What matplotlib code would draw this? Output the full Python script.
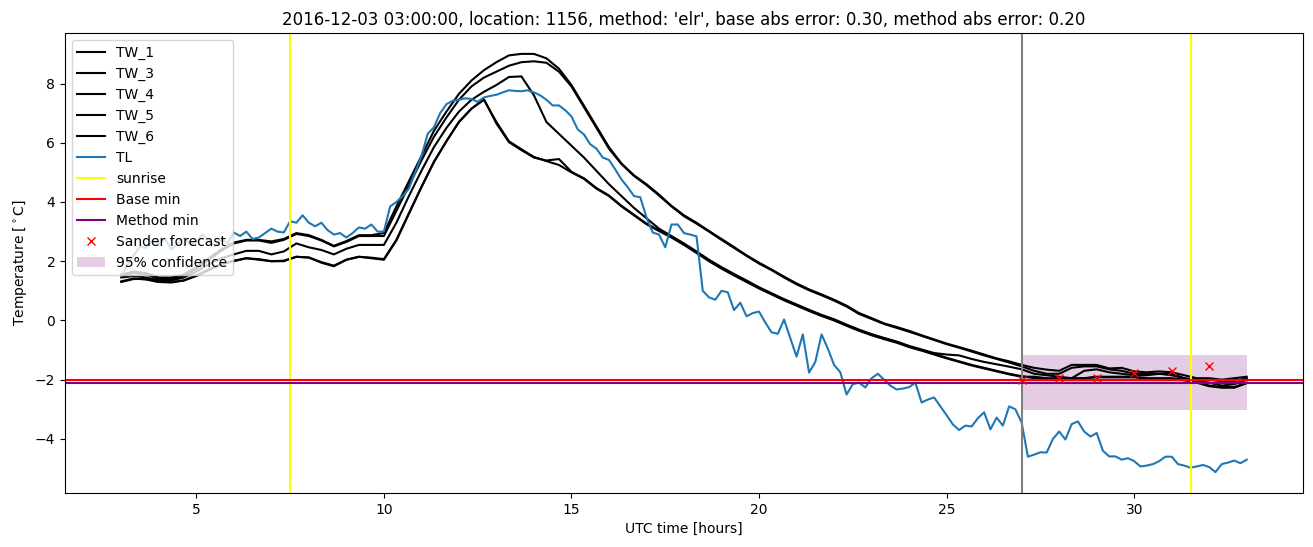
"""Road temperature forecast plot for one location (TW sensors vs TL, forecast band)."""
import numpy as np
import matplotlib
matplotlib.use("Agg")
import matplotlib.pyplot as plt

# TW sensors on a 20-minute grid, hours since 2016-12-03 00:00 UTC
hours = np.arange(91) / 3 + 3
# TL on a 10-minute grid
tl_hours = np.arange(181) / 6 + 3

tw_1 = [1.55, 1.65, 1.6, 1.45, 1.45, 1.55, 1.8, 2.1, 2.4, 2.63,
        2.72, 2.72, 2.67, 2.75, 2.95, 2.88, 2.72, 2.52, 2.68, 2.88,
        2.88, 2.95, 3.85, 4.7, 5.55, 6.4, 7.05, 7.65, 8.1, 8.45,
        8.72, 8.95, 9.0, 9.0, 8.85, 8.5, 7.95, 7.25, 6.55, 5.85,
        5.3, 4.9, 4.6, 4.25, 3.87, 3.55, 3.3, 3.02, 2.75, 2.48,
        2.2, 1.95, 1.72, 1.48, 1.25, 1.05, 0.88, 0.7, 0.5, 0.25,
        0.08, -0.1, -0.22, -0.35, -0.5, -0.64, -0.78, -0.9, -1.02, -1.15,
        -1.28, -1.38, -1.5, -1.6, -1.66, -1.7, -1.5, -1.5, -1.5, -1.62,
        -1.6, -1.72, -1.75, -1.72, -1.75, -1.85, -1.95, -1.95, -2.0, -1.95,
        -1.9]
tw_3 = [1.5, 1.6, 1.55, 1.4, 1.4, 1.5, 1.75, 2.05, 2.35, 2.6,
        2.7, 2.7, 2.62, 2.72, 2.92, 2.85, 2.7, 2.5, 2.65, 2.85,
        2.85, 2.85, 3.7, 4.55, 5.4, 6.2, 6.85, 7.45, 7.9, 8.2,
        8.4, 8.6, 8.72, 8.75, 8.7, 8.4, 7.9, 7.2, 6.5, 5.8,
        5.28, 4.88, 4.57, 4.22, 3.85, 3.52, 3.27, 3.0, 2.72, 2.45,
        2.18, 1.92, 1.7, 1.45, 1.22, 1.02, 0.85, 0.67, 0.47, 0.22,
        0.05, -0.12, -0.25, -0.38, -0.52, -0.66, -0.8, -0.92, -1.05, -1.18,
        -1.3, -1.42, -1.55, -1.7, -1.8, -1.8, -1.6, -1.55, -1.55, -1.65,
        -1.7, -1.8, -1.8, -1.8, -1.8, -1.95, -2.0, -2.0, -2.05, -2.05,
        -1.95]
tw_4 = [1.45, 1.5, 1.45, 1.35, 1.35, 1.45, 1.65, 1.9, 2.1, 2.23,
        2.35, 2.35, 2.23, 2.33, 2.6, 2.47, 2.38, 2.23, 2.42, 2.55,
        2.55, 2.55, 3.3, 4.2, 5.05, 5.85, 6.5, 7.05, 7.45, 7.72,
        7.95, 8.22, 8.24, 7.6, 6.7, 6.3, 5.9, 5.5, 5.05, 4.6,
        4.2, 3.8, 3.45, 3.1, 2.85, 2.6, 2.33, 2.05, 1.8, 1.57,
        1.35, 1.12, 0.92, 0.72, 0.54, 0.36, 0.19, 0.04, -0.14, -0.31,
        -0.46, -0.59, -0.71, -0.86, -0.98, -1.1, -1.15, -1.18, -1.3, -1.4,
        -1.48, -1.56, -1.65, -1.8, -1.85, -1.9, -1.95, -1.7, -1.65, -1.75,
        -1.8, -1.85, -1.85, -1.8, -1.85, -1.95, -2.05, -2.1, -2.2, -2.15,
        -2.0]
tw_5 = [1.3, 1.4, 1.4, 1.3, 1.3, 1.35, 1.5, 1.7, 1.9, 2.0,
        2.1, 2.05, 2.0, 2.0, 2.15, 2.13, 1.95, 1.83, 2.05, 2.15,
        2.1, 2.05, 2.7, 3.6, 4.5, 5.35, 6.05, 6.7, 7.15, 7.45,
        6.7, 6.05, 5.78, 5.52, 5.38, 5.25, 5.0, 4.78, 4.45, 4.2,
        3.85, 3.55, 3.25, 3.02, 2.8, 2.55, 2.28, 2.0, 1.75, 1.52,
        1.3, 1.08, 0.88, 0.68, 0.5, 0.32, 0.15, 0.0, -0.18, -0.35,
        -0.5, -0.63, -0.75, -0.9, -1.02, -1.15, -1.28, -1.4, -1.52, -1.62,
        -1.72, -1.82, -1.9, -1.9, -1.95, -1.95, -1.95, -1.95, -1.9, -1.9,
        -1.9, -1.9, -1.95, -1.95, -1.95, -2.0, -2.05, -2.2, -2.25, -2.25,
        -2.1]
tw_6 = [1.32, 1.42, 1.38, 1.3, 1.28, 1.35, 1.52, 1.72, 1.9, 2.02,
        2.1, 2.07, 2.0, 2.02, 2.15, 2.12, 1.97, 1.85, 2.05, 2.15,
        2.12, 2.07, 2.72, 3.62, 4.5, 5.35, 6.05, 6.7, 7.15, 7.47,
        6.65, 6.02, 5.75, 5.5, 5.4, 5.45, 5.02, 4.8, 4.47, 4.22,
        3.87, 3.57, 3.27, 3.04, 2.82, 2.57, 2.3, 2.02, 1.77, 1.54,
        1.32, 1.1, 0.9, 0.7, 0.52, 0.34, 0.17, 0.02, -0.16, -0.33,
        -0.48, -0.61, -0.73, -0.88, -1.0, -1.13, -1.26, -1.38, -1.5, -1.6,
        -1.7, -1.8, -1.88, -1.95, -2.0, -2.0, -1.98, -1.95, -1.92, -1.92,
        -1.92, -1.92, -1.97, -1.97, -1.97, -2.02, -2.1, -2.22, -2.27, -2.27,
        -2.12]
# one row per hour (6 values), last value at 33:00
tl = [1.5, 1.9, 2.2, 2.5, 2.45, 2.7,
      2.6, 2.75, 2.4, 2.6, 2.8, 2.55,
      2.65, 2.9, 2.7, 2.5, 2.75, 2.6,
      2.97, 2.85, 3.0, 2.75, 2.8, 2.95,
      3.1, 3.0, 2.97, 3.35, 3.3, 3.55,
      3.3, 3.18, 3.3, 3.05, 2.9, 2.95,
      2.8, 2.95, 3.14, 3.1, 3.24, 3.0,
      3.0, 3.85, 4.0, 4.2, 4.45, 5.0,
      5.54, 6.3, 6.52, 7.0, 7.3, 7.42,
      7.45, 7.5, 7.48, 7.38, 7.53, 7.58,
      7.62, 7.7, 7.77, 7.75, 7.74, 7.77,
      7.7, 7.6, 7.45, 7.26, 7.26, 7.1,
      6.89, 6.45, 6.28, 5.95, 5.8, 5.5,
      5.42, 5.1, 4.76, 4.5, 4.2, 4.16,
      3.48, 2.97, 2.9, 2.47, 3.24, 3.24,
      2.95, 2.9, 2.84, 1.0, 0.78, 0.7,
      1.0, 0.95, 0.35, 0.6, 0.14, 0.25,
      0.3, -0.07, -0.4, -0.45, 0.03, -0.6,
      -1.22, -0.47, -1.76, -1.4, -0.47, -0.95,
      -1.5, -1.75, -2.5, -2.15, -2.1, -2.26,
      -1.95, -1.8, -2.0, -2.2, -2.33, -2.3,
      -2.25, -2.1, -2.77, -2.67, -2.6, -2.9,
      -3.2, -3.51, -3.7, -3.55, -3.58, -3.3,
      -3.1, -3.68, -3.28, -3.55, -2.9, -3.0,
      -3.45, -4.6, -4.53, -4.45, -4.46, -4.0,
      -3.75, -4.02, -3.5, -3.41, -3.75, -3.92,
      -3.8, -4.4, -4.59, -4.59, -4.7, -4.65,
      -4.75, -4.93, -4.9, -4.85, -4.75, -4.6,
      -4.6, -4.85, -4.9, -4.97, -4.93, -4.88,
      -4.95, -5.12, -4.85, -4.8, -4.73, -4.82,
      -4.7]

sunrise = [7.49, 31.52]
forecast_time = 27.0
base_min = -2.0
method_min = -2.1

sander_hours = [27, 28, 29, 30, 31, 32]
sander_temp = [-2.0, -1.93, -1.93, -1.77, -1.7, -1.55]
conf_hours = [27, 33]
conf_low = [-3.03, -3.03]
conf_high = [-1.18, -1.18]

fig, ax = plt.subplots(figsize=(13.13, 5.47), dpi=100)
fig.subplots_adjust(left=0.0495, right=0.9924, top=0.9397, bottom=0.0987)

for name, vals in [("TW_1", tw_1), ("TW_3", tw_3), ("TW_4", tw_4),
                   ("TW_5", tw_5), ("TW_6", tw_6)]:
    ax.plot(hours, vals, color="black", label=name)
ax.plot(tl_hours, tl, color="C0", label="TL")

ax.axvline(sunrise[0], color="yellow", label="sunrise")
ax.axvline(sunrise[1], color="yellow")
ax.axvline(forecast_time, color="grey")
ax.axhline(base_min, color="red", label="Base min")
ax.axhline(method_min, color="purple", label="Method min")
ax.plot(sander_hours, sander_temp, "rx", label="Sander forecast")
ax.fill_between(conf_hours, conf_low, conf_high, color="purple", alpha=0.2,
                linewidth=0, label="95% confidence")

ax.set_xlabel("UTC time [hours]")
ax.set_ylabel(r"Temperature [$^\circ$C]")
ax.set_title("2016-12-03 03:00:00, location: 1156, method: 'elr', "
             "base abs error: 0.30, method abs error: 0.20")
ax.legend(loc="upper left")

fig.savefig("out.png", dpi=100)
